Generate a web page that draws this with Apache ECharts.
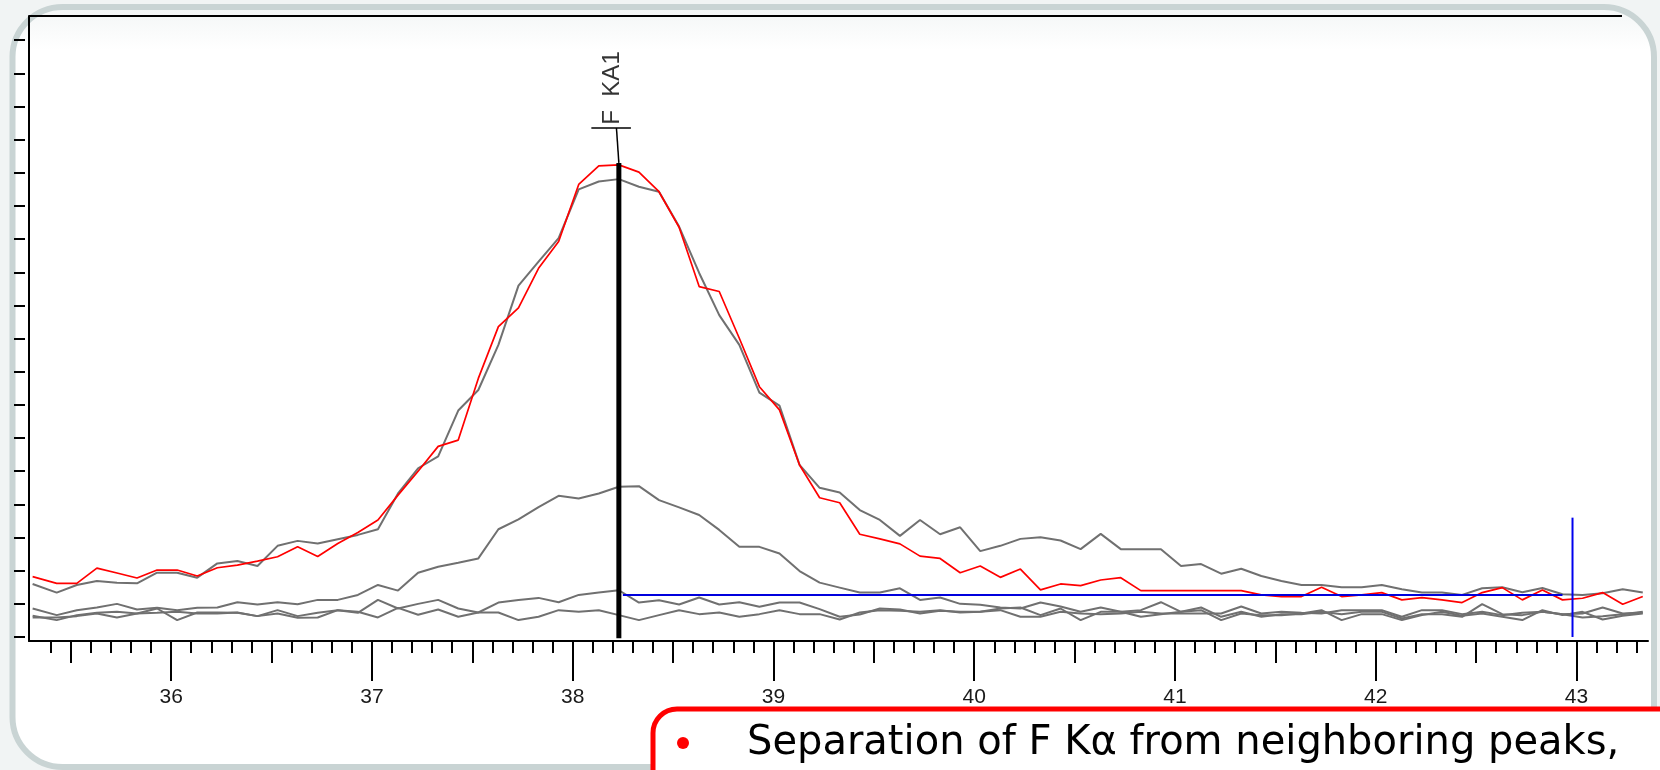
<!DOCTYPE html>
<html>
<head>
<meta charset="utf-8">
<title>F KA1 scan</title>
<script src="https://cdn.jsdelivr.net/npm/echarts@6/dist/echarts.min.js"></script>
<style>
  html, body { margin: 0; padding: 0; background: #f1f4f4; }
  #main { width: 1660px; height: 770px; }
</style>
</head>
<body>
<div id="main"></div>
<script>
// scan positions (one point per step)
var xValues = [
  35.31, 35.43, 35.53, 35.63, 35.73, 35.83, 35.93, 36.03, 36.13, 36.23,
  36.33, 36.43, 36.53, 36.63, 36.73, 36.83, 36.93, 37.03, 37.13, 37.23,
  37.33, 37.43, 37.53, 37.63, 37.73, 37.83, 37.93, 38.03, 38.13, 38.23,
  38.33, 38.43, 38.53, 38.63, 38.73, 38.83, 38.93, 39.03, 39.13, 39.23,
  39.33, 39.43, 39.53, 39.63, 39.73, 39.83, 39.93, 40.03, 40.13, 40.23,
  40.33, 40.43, 40.53, 40.63, 40.73, 40.83, 40.93, 41.03, 41.13, 41.23,
  41.33, 41.43, 41.53, 41.63, 41.73, 41.83, 41.93, 42.03, 42.13, 42.23,
  42.33, 42.43, 42.53, 42.63, 42.73, 42.83, 42.93, 43.03, 43.13, 43.23,
  43.33
];

// red scan
var redScan = [
  18.2, 16.2, 16.2, 20.8, 19.3, 17.8, 20.2, 20.2, 18.4, 20.9,
  21.7, 22.9, 24.2, 27.2, 24.3, 28.2, 31.5, 35.3, 42.8, 50.0,
  57.5, 59.4, 78.0, 93.6, 99.3, 111.2, 119.3, 136.5, 142.1, 142.4,
  140.2, 134.3, 123.6, 105.7, 104.2, 90.1, 75.5, 68.5, 51.9, 42.0,
  40.5, 31.0, 29.6, 28.1, 24.4, 23.7, 19.4, 21.4, 18.0, 20.5,
  14.2, 16.0, 15.5, 17.2, 17.9, 14.0, 14.0, 14.0, 14.0, 14.0,
  14.0, 12.7, 12.2, 12.2, 15.0, 12.2, 12.7, 13.4, 11.2, 11.9,
  11.2, 10.4, 13.4, 14.9, 11.2, 14.2, 11.2, 11.7, 13.4, 9.9,
  12.2
];

// grey scans
var greyA = [
  16.0, 13.4, 15.7, 16.9, 16.4, 16.2, 19.4, 19.4, 17.9, 22.2,
  22.9, 21.4, 27.5, 29.0, 28.2, 29.5, 30.8, 32.5, 43.3, 50.9,
  54.5, 68.3, 74.5, 88.1, 106.0, 113.2, 120.3, 135.0, 137.4, 138.1,
  135.8, 134.3, 123.8, 109.8, 97.1, 88.1, 73.7, 69.8, 51.9, 45.0,
  43.6, 38.3, 35.3, 30.5, 35.3, 31.0, 33.1, 25.9, 27.5, 29.6,
  30.1, 29.1, 26.5, 31.1, 26.5, 26.5, 26.5, 21.4, 22.0, 19.1,
  20.6, 18.4, 16.9, 15.7, 15.7, 15.0, 15.0, 15.7, 14.4, 13.4,
  13.4, 12.7, 14.7, 15.0, 13.5, 14.8, 12.9, 12.7, 13.2, 14.4,
  13.4
];
var greyB = [
  8.6, 6.6, 8.1, 8.9, 10.0, 8.3, 8.8, 8.1, 8.8, 8.9,
  10.5, 9.8, 10.5, 9.9, 11.2, 11.2, 12.7, 15.7, 14.0, 19.4,
  21.2, 22.4, 23.7, 32.5, 35.5, 39.2, 42.6, 41.8, 43.3, 45.3,
  45.5, 41.3, 39.1, 36.8, 32.3, 27.2, 27.2, 25.2, 19.9, 16.4,
  14.9, 13.4, 13.4, 14.7, 11.2, 11.9, 10.0, 9.7, 8.9, 8.6,
  10.4, 9.2, 7.6, 8.9, 7.6, 8.1, 10.5, 7.6, 8.9, 6.1,
  7.6, 6.1, 6.9, 6.9, 7.6, 6.9, 7.6, 7.6, 5.6, 6.9,
  6.9, 6.1, 9.9, 6.9, 6.6, 7.6, 6.9, 7.1, 8.9, 7.1,
  7.3
];
var greyC = [
  6.4, 5.1, 6.6, 7.3, 7.6, 7.1, 8.6, 5.1, 7.4, 7.4,
  7.3, 6.3, 8.1, 6.3, 7.3, 8.1, 7.3, 11.2, 8.6, 10.0,
  11.2, 8.6, 7.4, 10.4, 11.2, 11.8, 10.5, 12.7, 13.4, 14.1,
  10.4, 11.1, 9.8, 11.9, 9.8, 10.5, 9.1, 10.4, 10.4, 8.4,
  6.1, 6.8, 8.6, 8.3, 7.1, 7.9, 7.6, 7.6, 8.6, 8.9,
  6.6, 8.6, 5.1, 7.6, 7.6, 6.1, 6.9, 7.6, 8.1, 5.1,
  7.1, 6.6, 6.6, 7.1, 8.1, 5.1, 6.9, 6.9, 5.1, 6.6,
  7.6, 6.4, 7.1, 6.1, 5.1, 8.1, 6.6, 7.6, 5.3, 6.4,
  7.1
];
var greyD = [
  5.9, 5.9, 6.3, 7.1, 5.9, 7.1, 7.3, 7.6, 7.1, 7.1,
  7.4, 6.3, 7.1, 5.8, 5.9, 8.1, 7.6, 5.9, 8.8, 6.7,
  8.3, 6.1, 7.4, 7.4, 5.1, 6.1, 8.1, 7.6, 8.1, 6.6,
  5.1, 6.6, 8.1, 6.9, 7.4, 6.1, 6.9, 8.1, 6.9, 6.9,
  5.3, 7.4, 8.1, 7.9, 7.6, 8.1, 7.4, 7.6, 8.1, 6.1,
  6.1, 7.6, 7.1, 6.9, 7.1, 7.6, 7.1, 7.1, 7.1, 7.1,
  9.2, 7.1, 7.6, 7.3, 7.1, 8.1, 8.1, 8.1, 6.1, 8.1,
  8.1, 6.9, 7.6, 6.6, 7.3, 7.6, 6.9, 5.9, 6.3, 6.9,
  7.6
];

// axes
var xMin = 35.292, xMax = 43.356;
var yMin = -1.2, yMax = 187.3;
var xMajorTicks = [36, 37, 38, 39, 40, 41, 42, 43];
var xHalfTicks = [35.5, 36.5, 37.5, 38.5, 39.5, 40.5, 41.5, 42.5];
var yTicks = [0, 10, 20, 30, 40, 50, 60, 70, 80, 90, 100, 110, 120, 130, 140, 150, 160, 170, 180];

// line marker and windows
var kaLabel = 'F  KA1';
var kaPos = 38.23;
var kaTop = 143;
var kaStemTop = 153.5;
var kaStemX = 38.218;
var kaBar = [38.093, 38.29];
var kaLabelPos = [38.196, 165.6];
var bgLevel = 12.7;
var bgRange = [38.25, 42.93];
var bgMarker = 42.98;
var bgMarkerTop = 36;

var xTenthTicks = [];
for (var i = 35; i <= 43; i++) {
  for (var j = 1; j <= 9; j++) {
    if (j == 5) continue;
    var t = Math.round((i + j / 10) * 10) / 10;
    if (t > 35.35 && t < xMax) xTenthTicks.push(t);
  }
}

function pairs(ys) {
  return ys.map(function (v, n) { return [xValues[n], v]; });
}

function scanLine(name, ys, color, width) {
  return {
    name: name, type: 'line', data: pairs(ys),
    symbol: 'none', silent: true,
    lineStyle: { color: color, width: width }
  };
}

function segment(name, pts, color, width) {
  return {
    name: name, type: 'line', data: pts,
    symbol: 'none', silent: true,
    lineStyle: { color: color, width: width }
  };
}

var chart = echarts.init(document.getElementById('main'));

var noSplit = { show: false };
var option = {
  animation: false,
  backgroundColor: '#f1f4f4',
  grid: { left: 29, right: 12, top: 16, bottom: 129 },
  graphic: [
    {
      type: 'rect', z: -10, silent: true,
      shape: { x: 12.5, y: 7, width: 1641.5, height: 760, r: 50 },
      style: {
        fill: new echarts.graphic.LinearGradient(0, 0, 0, 1, [
          { offset: 0, color: '#f2f5f5' },
          { offset: 0.06, color: '#ffffff' },
          { offset: 1, color: '#ffffff' }
        ]),
        stroke: '#c9d4d4', lineWidth: 6
      }
    },
    {
      type: 'line', z: 5, silent: true,
      shape: { x1: 29, y1: 16, x2: 1622, y2: 16 },
      style: { stroke: '#000', lineWidth: 2 }
    },
    {
      type: 'rect', z: 20, silent: true,
      shape: { x: 653, y: 709, width: 1100, height: 200, r: 24 },
      style: { fill: '#ffffff', stroke: '#ff0000', lineWidth: 5 }
    },
    {
      type: 'circle', z: 21, silent: true,
      shape: { cx: 683, cy: 743, r: 6 },
      style: { fill: '#ff0000' }
    },
    {
      type: 'text', z: 21, silent: true,
      x: 747, y: 744,
      style: {
        text: 'Separation of F K\u03b1 from neighboring peaks,',
        font: '40px "DejaVu Sans"',
        fill: '#000',
        verticalAlign: 'middle'
      }
    }
  ],
  xAxis: [
    {
      type: 'value', min: xMin, max: xMax, position: 'bottom',
      axisLine: { show: true, onZero: false, lineStyle: { color: '#000', width: 2 } },
      axisTick: { show: true, length: 40, customValues: xMajorTicks, lineStyle: { color: '#000', width: 2 } },
      axisLabel: {
        customValues: xMajorTicks, margin: 46, fontSize: 21,
        fontFamily: 'Liberation Sans', color: '#1a1a1a'
      },
      splitLine: noSplit
    },
    {
      type: 'value', min: xMin, max: xMax, position: 'bottom',
      axisLine: { show: false, onZero: false },
      axisTick: { show: true, length: 22, customValues: xHalfTicks, lineStyle: { color: '#000', width: 2 } },
      axisLabel: { show: false },
      splitLine: noSplit
    },
    {
      type: 'value', min: xMin, max: xMax, position: 'bottom',
      axisLine: { show: false, onZero: false },
      axisTick: { show: true, length: 12, customValues: xTenthTicks, lineStyle: { color: '#000', width: 2 } },
      axisLabel: { show: false },
      splitLine: noSplit
    }
  ],
  yAxis: [
    {
      type: 'value', min: yMin, max: yMax, position: 'left',
      axisLine: { show: true, onZero: false, lineStyle: { color: '#000', width: 2 } },
      axisTick: { show: false },
      axisLabel: { show: false },
      splitLine: noSplit
    },
    {
      type: 'value', min: yMin, max: yMax, position: 'left', offset: 4,
      axisLine: { show: false, onZero: false },
      axisTick: { show: true, length: 11, customValues: yTicks, lineStyle: { color: '#000', width: 2 } },
      axisLabel: { show: false },
      splitLine: noSplit
    }
  ],
  series: [
    scanLine('grey D', greyD, '#707070', 2),
    scanLine('grey C', greyC, '#707070', 2),
    scanLine('grey B', greyB, '#707070', 2),
    scanLine('grey A', greyA, '#707070', 2),
    scanLine('red', redScan, '#ff0000', 1.7),
    segment('bg level', [[bgRange[0], bgLevel], [bgRange[1], bgLevel]], '#0000dd', 2),
    segment('bg marker', [[bgMarker, 0], [bgMarker, bgMarkerTop]], '#0000ee', 2),
    segment('ka line', [[kaPos, -0.4], [kaPos, kaTop]], '#000', 5),
    segment('ka stem', [[kaPos, kaTop], [kaStemX, kaStemTop]], '#000', 1.5),
    segment('ka bar', [[kaBar[0], kaStemTop], [kaBar[1], kaStemTop]], '#000', 1.5),
    {
      name: 'ka label', type: 'scatter', symbolSize: 0, silent: true,
      data: [kaLabelPos],
      label: {
        show: true, position: 'inside', rotate: 90,
        formatter: kaLabel, fontSize: 24,
        fontFamily: 'Liberation Sans', color: '#000'
      }
    }
  ]
};
chart.setOption(option);
</script>
</body>
</html>
